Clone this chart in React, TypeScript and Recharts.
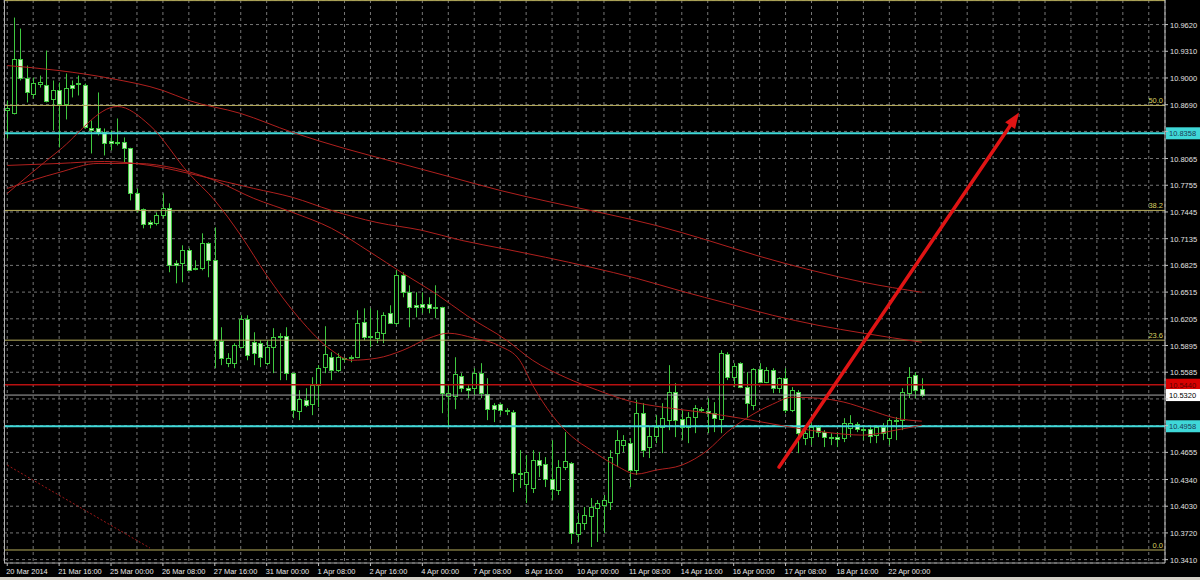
import { ComposedChart, Bar, Line, XAxis, YAxis, CartesianGrid, ReferenceLine } from "recharts";

// H4 candles, 20 Mar 2014 .. 22 Apr 2014
const opens = [
  10.8623, 10.8600, 10.9225, 10.8994, 10.8809, 10.8936, 10.8924, 10.8750, 10.8855, 10.8693,
  10.8924, 10.8936, 10.8913, 10.8414, 10.8414, 10.8368, 10.8263, 10.8252, 10.8252, 10.8182,
  10.7660, 10.7475, 10.7324, 10.7312, 10.7405, 10.7486, 10.6849, 10.6849, 10.7000, 10.6791,
  10.6791, 10.7081, 10.6884, 10.5945, 10.5690, 10.5690, 10.5875, 10.6200, 10.5933, 10.5922,
  10.5690, 10.5875, 10.6003, 10.6003, 10.5574, 10.5133, 10.5261, 10.5214, 10.5435, 10.5644,
  10.5759, 10.5609, 10.5748, 10.5748, 10.5759, 10.6165, 10.6003, 10.5980, 10.6038, 10.6269,
  10.6153, 10.6710, 10.6513, 10.6362, 10.6374, 10.6374, 10.6339, 10.6339, 10.5307, 10.5307,
  10.5539, 10.5400, 10.5400, 10.5574, 10.5330, 10.5203, 10.5214, 10.5145, 10.5122, 10.4415,
  10.4287, 10.4241, 10.4565, 10.4519, 10.4345, 10.4218, 10.4484, 10.4530, 10.3707, 10.3835,
  10.3916, 10.4009, 10.4044, 10.4078, 10.4646, 10.4739, 10.4762, 10.4449, 10.5110, 10.4716,
  10.4843, 10.4948, 10.5029, 10.5353, 10.5040, 10.4948, 10.5064, 10.5156, 10.5133, 10.5110,
  10.5040, 10.5794, 10.5527, 10.5690, 10.5412, 10.5203, 10.5620, 10.5470, 10.5609, 10.5400,
  10.5516, 10.5145, 10.5353, 10.4820, 10.4832, 10.4948, 10.4890, 10.4832, 10.4832, 10.4820,
  10.4936, 10.4983, 10.4925, 10.4925, 10.4855, 10.4948, 10.4820, 10.5017, 10.5029, 10.5342,
  10.5551, 10.5388,
];
const highs = [
  10.8739, 10.9701, 10.9573, 10.9144, 10.9005, 10.9028, 10.9318, 10.8971, 10.8947, 10.9052,
  10.8971, 10.9028, 10.8936, 10.8507, 10.8832, 10.8414, 10.8391, 10.8530, 10.8310, 10.8190,
  10.7718, 10.7486, 10.7347, 10.7440, 10.7660, 10.7545, 10.6884, 10.7058, 10.7023, 10.6884,
  10.7197, 10.7093, 10.7266, 10.6107, 10.5806, 10.5922, 10.6246, 10.6246, 10.6049, 10.5956,
  10.5956, 10.6096, 10.6038, 10.6107, 10.5580, 10.5377, 10.5400, 10.5527, 10.5667, 10.6119,
  10.5817, 10.5806, 10.5759, 10.5782, 10.6304, 10.6327, 10.6327, 10.6304, 10.6281, 10.6362,
  10.6768, 10.6745, 10.6594, 10.6513, 10.6513, 10.6455, 10.6594, 10.6345, 10.5435, 10.5759,
  10.5574, 10.5435, 10.5632, 10.5690, 10.5516, 10.5226, 10.5226, 10.5168, 10.5145, 10.4681,
  10.4623, 10.4681, 10.4658, 10.4600, 10.4797, 10.4565, 10.4890, 10.4542, 10.3951, 10.4020,
  10.4125, 10.4101, 10.4160, 10.4681, 10.4913, 10.4855, 10.4820, 10.5261, 10.5226, 10.4948,
  10.5087, 10.5226, 10.5667, 10.5458, 10.5145, 10.5122, 10.5203, 10.5180, 10.5284, 10.5238,
  10.5840, 10.5817, 10.5690, 10.5701, 10.5586, 10.5632, 10.5690, 10.5644, 10.5632, 10.5527,
  10.5632, 10.5412, 10.5377, 10.4936, 10.4994, 10.4971, 10.4913, 10.4878, 10.4890, 10.5052,
  10.5087, 10.5006, 10.4971, 10.4971, 10.4971, 10.4994, 10.5052, 10.5064, 10.5400, 10.5644,
  10.5586, 10.5516,
];
const lows = [
  10.8298, 10.8577, 10.8971, 10.8716, 10.8762, 10.8889, 10.8716, 10.8391, 10.8194, 10.8519,
  10.8774, 10.8797, 10.8414, 10.8124, 10.8333, 10.8101, 10.8159, 10.8217, 10.8020, 10.7579,
  10.7440, 10.7255, 10.7255, 10.7289, 10.7370, 10.6745, 10.6617, 10.6629, 10.6760, 10.6768,
  10.6768, 10.6687, 10.5632, 10.5667, 10.5644, 10.5632, 10.5864, 10.5724, 10.5667, 10.5644,
  10.5667, 10.5574, 10.5493, 10.5493, 10.5052, 10.5029, 10.5180, 10.5087, 10.5180, 10.5574,
  10.5493, 10.5586, 10.5701, 10.5701, 10.5748, 10.5956, 10.5875, 10.5922, 10.5922, 10.6150,
  10.6130, 10.6455, 10.6107, 10.6223, 10.6269, 10.6269, 10.6212, 10.5110, 10.4948, 10.5156,
  10.5353, 10.5284, 10.5319, 10.5284, 10.5029, 10.5006, 10.5087, 10.5087, 10.4194, 10.4241,
  10.4067, 10.4183, 10.4368, 10.4252, 10.4101, 10.4160, 10.4449, 10.3592, 10.3615, 10.3754,
  10.3557, 10.3615, 10.3719, 10.3986, 10.4484, 10.4658, 10.4252, 10.4392, 10.4600, 10.4588,
  10.4762, 10.4646, 10.4913, 10.4832, 10.4797, 10.4762, 10.4878, 10.5122, 10.4878, 10.4890,
  10.4878, 10.5493, 10.5412, 10.5400, 10.5052, 10.5145, 10.5458, 10.5458, 10.5342, 10.5342,
  10.5110, 10.5122, 10.4646, 10.4739, 10.4739, 10.4832, 10.4716, 10.4739, 10.4716, 10.4774,
  10.4832, 10.4890, 10.4797, 10.4762, 10.4762, 10.4797, 10.4739, 10.4797, 10.4913, 10.5284,
  10.5284, 10.5296,
];
const closes = [
  10.8646, 10.9225, 10.9005, 10.8832, 10.8936, 10.8959, 10.8739, 10.8855, 10.8693, 10.8878,
  10.8889, 10.8924, 10.8426, 10.8391, 10.8368, 10.8240, 10.8240, 10.8240, 10.8182, 10.7660,
  10.7463, 10.7301, 10.7301, 10.7405, 10.7486, 10.6826, 10.6826, 10.7000, 10.6768, 10.6780,
  10.7081, 10.6884, 10.5956, 10.5748, 10.5748, 10.5898, 10.6200, 10.5782, 10.5806, 10.5759,
  10.5875, 10.5991, 10.5991, 10.5574, 10.5145, 10.5272, 10.5203, 10.5435, 10.5632, 10.5794,
  10.5609, 10.5759, 10.5745, 10.5759, 10.6153, 10.5991, 10.5991, 10.6049, 10.6246, 10.6153,
  10.6710, 10.6513, 10.6339, 10.6339, 10.6339, 10.6327, 10.6327, 10.5342, 10.5342, 10.5562,
  10.5400, 10.5377, 10.5574, 10.5342, 10.5156, 10.5156, 10.5145, 10.5133, 10.4415, 10.4410,
  10.4426, 10.4565, 10.4507, 10.4345, 10.4229, 10.4484, 10.4554, 10.3719, 10.3835, 10.3928,
  10.4020, 10.4067, 10.4101, 10.4600, 10.4797, 10.4797, 10.4449, 10.5110, 10.4681, 10.4843,
  10.4948, 10.5052, 10.5353, 10.5029, 10.4948, 10.5064, 10.5168, 10.5145, 10.5110, 10.5052,
  10.5806, 10.5527, 10.5655, 10.5412, 10.5226, 10.5620, 10.5470, 10.5609, 10.5400, 10.5516,
  10.5145, 10.5377, 10.4878, 10.4878, 10.4948, 10.4890, 10.4832, 10.4820, 10.4809, 10.4994,
  10.4994, 10.4925, 10.4913, 10.4843, 10.4948, 10.4878, 10.5029, 10.5029, 10.5353, 10.5527,
  10.5377, 10.5320,
];

const dateLabels = [
  "20 Mar 2014", "21 Mar 16:00", "25 Mar 00:00", "26 Mar 08:00", "27 Mar 16:00", "31 Mar 00:00",
  "1 Apr 08:00", "2 Apr 16:00", "4 Apr 00:00", "7 Apr 08:00", "8 Apr 16:00", "10 Apr 00:00",
  "11 Apr 08:00", "14 Apr 16:00", "16 Apr 00:00", "17 Apr 08:00", "18 Apr 16:00", "22 Apr 00:00",
];

const priceTicks = [
  10.962, 10.931, 10.9, 10.869, 10.838, 10.8065, 10.7755, 10.7445, 10.7135, 10.6825, 10.6515,
  10.6205, 10.5895, 10.5585, 10.5275, 10.4965, 10.4655, 10.434, 10.403, 10.372, 10.341,
];
// axis labels hidden behind the price tags
const coveredTicks = [10.838, 10.5275, 10.4965];

// moving averages, read at [bar, price]
const maFast: [number, number][] = [
  [0, 10.766], [8, 10.8159], [17, 10.8669], [22, 10.8449], [28, 10.7892], [32, 10.7579],
  [36, 10.7174], [40, 10.671], [45, 10.6212], [50, 10.584], [53, 10.5724], [57, 10.5748],
  [61, 10.584], [65, 10.598], [68, 10.6038], [72, 10.598], [76, 10.5887], [79, 10.5724],
  [81, 10.5435], [84, 10.5087], [87, 10.4843], [90, 10.4681], [94, 10.4496], [97, 10.4403],
  [100, 10.4449], [104, 10.4507], [108, 10.4681], [111, 10.489], [114, 10.5052], [118, 10.5214],
  [121, 10.5295], [125, 10.5284], [129, 10.5238], [133, 10.5145], [137, 10.5052], [141, 10.5017],
];
const maMid: [number, number][] = [
  [0, 10.7718], [8, 10.7904], [14, 10.8008], [20, 10.8008], [26, 10.795], [32, 10.7811],
  [38, 10.7603], [44, 10.744], [50, 10.7255], [56, 10.6977], [61, 10.6733], [66, 10.6501],
  [71, 10.6235], [77, 10.5956], [81, 10.5724], [86, 10.5527], [91, 10.5377], [96, 10.5249],
  [101, 10.518], [107, 10.5122], [113, 10.5052], [119, 10.4971], [126, 10.489], [132, 10.4855],
  [137, 10.4913], [141, 10.4971],
];
const maSlow: [number, number][] = [
  [0, 10.7985], [8, 10.8008], [15, 10.8031], [22, 10.7985], [30, 10.7858], [38, 10.7718],
  [44, 10.7614], [50, 10.7463], [57, 10.7323], [64, 10.7231], [70, 10.7116], [77, 10.7011],
  [83, 10.6919], [90, 10.6803], [97, 10.6675], [104, 10.6525], [111, 10.6385], [118, 10.6246],
  [125, 10.613], [132, 10.6038], [141, 10.5933],
];
const maSlowest: [number, number][] = [
  [0, 10.9144], [8, 10.9086], [16, 10.8994], [24, 10.8855], [28, 10.8739], [36, 10.8588],
  [44, 10.8368], [52, 10.8182], [60, 10.802], [68, 10.7858], [76, 10.7695], [84, 10.7556],
  [92, 10.7429], [100, 10.7289], [108, 10.7116], [116, 10.693], [124, 10.6768], [132, 10.6629],
  [141, 10.6513],
];

const fibNames = ["0.0", "23.6", "38.2", "50.0", ""];
const fibPrices = [10.3522, 10.5957, 10.7463, 10.8681, 10.9898];

const supportPrices = [10.8358, 10.4958];
const resistPrice = 10.544;
const bidPrice = 10.532;

const arrowPts: [number, number][] = [[119, 10.4484], [156, 10.86]];
const dottedPts: [number, number][] = [[0, 10.4507], [22, 10.3545]];

const TOTAL_BARS = 179;
const FONT = "Liberation Sans, Arial, sans-serif";
const WICK = "#3fc83f";
const BEAR = "#d2f6c8";
const MA_COLOR = "#b0201e";
const FIB = "#b8ae5c";
const CYAN = "#3fd8d8";

const rows: any[] = Array.from({ length: TOTAL_BARS }, (_, i) => {
  const r: any = { i };
  if (i < opens.length) {
    r.open = opens[i];
    r.high = highs[i];
    r.low = lows[i];
    r.close = closes[i];
    r.range = [lows[i], highs[i]];
  }
  return r;
});
const putMa = (key: string, pts: [number, number][]) => pts.forEach(([b, v]) => { rows[b][key] = v; });
putMa("maFast", maFast);
putMa("maMid", maMid);
putMa("maSlow", maSlow);
putMa("maSlowest", maSlowest);

const gridTicks = rows.filter((r) => r.i % 4 === 0).map((r) => r.i);

function Candle(props: any) {
  const { x, y, width, height, payload } = props;
  if (!payload || payload.open == null) return null;
  const { open, close, high, low } = payload;
  const top = Math.min(y, y + height);
  const h = Math.abs(height);
  const ppu = h / (high - low);
  const cx = Math.round(x + width / 2) + 0.5;
  const yO = top + (high - open) * ppu;
  const yC = top + (high - close) * ppu;
  const bTop = Math.round(Math.min(yO, yC)) + 0.5;
  const bH = Math.max(1, Math.round(Math.abs(yO - yC)));
  const bear = close < open;
  return (
    <g>
      <line x1={cx} x2={cx} y1={top} y2={top + h} stroke={WICK} strokeWidth={1} />
      <rect x={cx - 2} y={bTop} width={4} height={bH} fill={bear ? BEAR : "#000"} stroke={WICK} strokeWidth={1} />
    </g>
  );
}

function PriceTick(props: any) {
  const { x, y, payload } = props;
  if (coveredTicks.includes(payload.value)) return null;
  return (
    <text x={x} y={y + 3} fontSize={7.5} fontFamily={FONT} fill="#e0e0e0">
      {payload.value.toFixed(4)}
    </text>
  );
}

function DateTick(props: any) {
  const { x, y, payload } = props;
  if (payload.value % 8 !== 0) return null;
  const label = dateLabels[payload.value / 8];
  if (!label) return null;
  return (
    <g>
      <line x1={x} x2={x} y1={y} y2={y + 3} stroke="#c0c0c0" />
      <text x={x - 1} y={y + 11} fontSize={7.4} fontFamily={FONT} fill="#e8e8e8">
        {label}
      </text>
    </g>
  );
}

function PriceTag({ viewBox, text, bg, fg }: any) {
  if (!viewBox) return null;
  const right = viewBox.x + viewBox.width;
  return (
    <g>
      <rect x={right + 1} y={viewBox.y - 6} width={34} height={12} fill={bg} />
      <text x={right + 4} y={viewBox.y + 3} fontSize={7.5} fontFamily={FONT} fill={fg}>
        {text}
      </text>
    </g>
  );
}

function FibTag({ viewBox, text }: any) {
  if (!viewBox || !text) return null;
  return (
    <text x={viewBox.x + viewBox.width - 2} y={viewBox.y - 2} textAnchor="end" fontSize={7.5} fontFamily={FONT} fill="#d8d060">
      {text}
    </text>
  );
}

function Arrow(props: any) {
  const { x1, y1, x2, y2 } = props;
  if ([x1, y1, x2, y2].some((v) => v == null)) return null;
  const ang = Math.atan2(y2 - y1, x2 - x1);
  const len = 16;
  const half = 6;
  const bx = x2 - len * Math.cos(ang);
  const by = y2 - len * Math.sin(ang);
  const px = -Math.sin(ang) * half;
  const py = Math.cos(ang) * half;
  return (
    <g>
      <line x1={x1} y1={y1} x2={bx} y2={by} stroke="#e01414" strokeWidth={3.5} strokeLinecap="round" />
      <polygon points={`${x2},${y2} ${bx + px},${by + py} ${bx - px},${by - py}`} fill="#e01414" />
    </g>
  );
}

export default function App() {
  return (
    <div style={{ position: "absolute", left: 0, top: 0, width: 1200, height: 580, background: "#000" }}>
      <ComposedChart width={1200} height={577} data={rows} margin={{ top: 0, right: 0, bottom: 0, left: 4 }}>
        <CartesianGrid stroke="#767676" strokeDasharray="3 3" />
        <XAxis
          dataKey="i"
          type="category"
          ticks={gridTicks}
          interval={0}
          height={14}
          tickSize={0}
          tickMargin={0}
          tickLine={false}
          axisLine={{ stroke: "#a0a0a0" }}
          tick={<DateTick />}
        />
        <YAxis
          orientation="right"
          width={35}
          domain={[10.3371, 10.9905]}
          allowDataOverflow
          ticks={priceTicks}
          interval={0}
          tickSize={3}
          tickMargin={2}
          tickLine={{ stroke: "#c0c0c0" }}
          axisLine={{ stroke: "#c8c8c8" }}
          tick={<PriceTick />}
        />
        {fibPrices.map((p, k) => (
          <ReferenceLine key={"fib" + k} y={p} stroke={FIB} strokeWidth={1} label={<FibTag text={fibNames[k]} />} />
        ))}
        <ReferenceLine y={resistPrice} stroke="#b81010" strokeWidth={1.5} label={<PriceTag text="10.5440" bg="#d80000" fg="#5a0000" />} />
        <ReferenceLine y={bidPrice} stroke="#a8a8a8" strokeWidth={1} label={<PriceTag text="10.5320" bg="#ffffff" fg="#000000" />} />
        {supportPrices.map((p) => (
          <ReferenceLine key={"s" + p} y={p} stroke={CYAN} strokeWidth={2} label={<PriceTag text={p.toFixed(4)} bg={CYAN} fg="#1c3a56" />} />
        ))}
        <ReferenceLine
          segment={dottedPts.map(([b, v]) => ({ x: b, y: v }))}
          stroke="#a01818"
          strokeDasharray="2 2"
        />
        <Line dataKey="maSlowest" stroke={MA_COLOR} strokeWidth={1} dot={false} activeDot={false} connectNulls type="monotone" isAnimationActive={false} />
        <Line dataKey="maSlow" stroke={MA_COLOR} strokeWidth={1} dot={false} activeDot={false} connectNulls type="monotone" isAnimationActive={false} />
        <Line dataKey="maMid" stroke={MA_COLOR} strokeWidth={1} dot={false} activeDot={false} connectNulls type="monotone" isAnimationActive={false} />
        <Line dataKey="maFast" stroke={MA_COLOR} strokeWidth={1} dot={false} activeDot={false} connectNulls type="monotone" isAnimationActive={false} />
        <Bar dataKey="range" shape={(p: any) => <Candle {...p} />} isAnimationActive={false} />
        <ReferenceLine
          segment={arrowPts.map(([b, v]) => ({ x: b, y: v }))}
          shape={(p: any) => <Arrow {...p} />}
        />
      </ComposedChart>
      <div style={{ position: "absolute", left: 4, top: 0, width: 1, height: 563, background: "#b0b0b0" }} />
      <div style={{ position: "absolute", left: 0, top: 577, width: 1200, height: 3, background: "#d4d0c8" }} />
    </div>
  );
}
